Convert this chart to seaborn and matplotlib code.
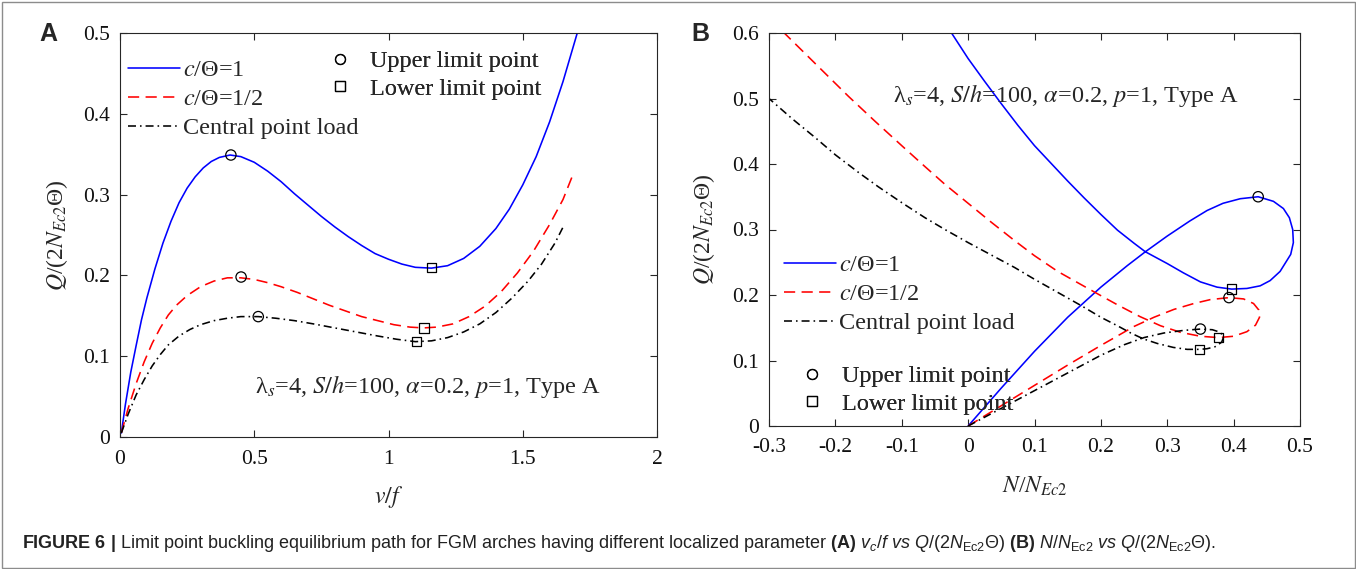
import matplotlib
matplotlib.use("Agg")
import matplotlib.pyplot as plt
import seaborn as sns
import pandas as pd
from matplotlib.lines import Line2D
from matplotlib.patches import Rectangle

# ---------------- data ----------------
# Panel A : v/f  vs  Q/(2 N_Ec2 Theta)
A_v_blue = [0.005, 0.02, 0.04, 0.06, 0.08, 0.10, 0.13, 0.16, 0.19, 0.22, 0.25, 0.28, 0.31, 0.34,
            0.37, 0.41, 0.45, 0.50, 0.55, 0.60, 0.65, 0.70, 0.75, 0.80, 0.85, 0.90, 0.95, 1.00,
            1.05, 1.10, 1.16, 1.22, 1.28, 1.34, 1.40, 1.45, 1.50, 1.55, 1.60, 1.65, 1.703]
A_q_blue = [0.005, 0.040, 0.080, 0.113, 0.145, 0.172, 0.208, 0.240, 0.267, 0.290, 0.308, 0.322,
            0.333, 0.341, 0.346, 0.349, 0.347, 0.340, 0.329, 0.316, 0.301, 0.287, 0.273, 0.260,
            0.248, 0.237, 0.227, 0.220, 0.214, 0.210, 0.209, 0.212, 0.221, 0.236, 0.258, 0.282,
            0.312, 0.347, 0.390, 0.440, 0.500]
A_v_red = [0.005, 0.03, 0.06, 0.09, 0.12, 0.15, 0.18, 0.21, 0.25, 0.30, 0.35, 0.40, 0.45, 0.50,
           0.55, 0.60, 0.66, 0.72, 0.78, 0.84, 0.90, 0.96, 1.02, 1.08, 1.13, 1.18, 1.24, 1.30,
           1.36, 1.42, 1.48, 1.54, 1.60, 1.65, 1.686]
A_q_red = [0.005, 0.035, 0.066, 0.093, 0.116, 0.135, 0.151, 0.163, 0.175, 0.186, 0.193, 0.197,
           0.197, 0.195, 0.191, 0.186, 0.179, 0.171, 0.163, 0.156, 0.149, 0.144, 0.139, 0.136,
           0.135, 0.136, 0.140, 0.149, 0.162, 0.180, 0.203, 0.230, 0.263, 0.294, 0.324]
A_v_black = [0.005, 0.03, 0.06, 0.09, 0.12, 0.15, 0.18, 0.22, 0.26, 0.30, 0.35, 0.40, 0.45, 0.515,
             0.58, 0.65, 0.72, 0.80, 0.88, 0.96, 1.03, 1.10, 1.16, 1.22, 1.28, 1.34, 1.40, 1.46,
             1.52, 1.57, 1.62, 1.655]
A_q_black = [0.005, 0.028, 0.052, 0.071, 0.088, 0.102, 0.114, 0.125, 0.133, 0.139, 0.144, 0.147,
             0.149, 0.149, 0.147, 0.144, 0.140, 0.135, 0.130, 0.125, 0.121, 0.118, 0.119, 0.123,
             0.130, 0.140, 0.154, 0.172, 0.193, 0.214, 0.240, 0.263]
A_up_v = [0.413, 0.451, 0.515]
A_up_q = [0.349, 0.198, 0.149]
A_lo_v = [1.161, 1.132, 1.105]
A_lo_q = [0.210, 0.135, 0.118]

# Panel B : N/N_Ec2  vs  Q/(2 N_Ec2 Theta)  (traced along the equilibrium path)
B_n_blue = [0.000, 0.050, 0.100, 0.150, 0.200, 0.240, 0.267, 0.300, 0.334, 0.360, 0.384, 0.410,
            0.437, 0.460, 0.475, 0.484, 0.489, 0.490, 0.486, 0.470, 0.455, 0.440, 0.420, 0.397,
            0.375, 0.350, 0.324, 0.300, 0.267, 0.250, 0.225, 0.200, 0.175, 0.150, 0.125, 0.100,
            0.075, 0.050, 0.025, 0.000, -0.025]
B_q_blue = [0.000, 0.058, 0.114, 0.166, 0.212, 0.245, 0.266, 0.290, 0.313, 0.329, 0.340, 0.347,
            0.350, 0.343, 0.332, 0.318, 0.300, 0.280, 0.262, 0.236, 0.222, 0.214, 0.210, 0.209,
            0.212, 0.220, 0.234, 0.248, 0.266, 0.279, 0.299, 0.323, 0.348, 0.374, 0.401, 0.428,
            0.459, 0.492, 0.526, 0.561, 0.600]
B_n_red = [0.000, 0.050, 0.100, 0.150, 0.200, 0.250, 0.280, 0.310, 0.340, 0.365, 0.393, 0.415,
           0.430, 0.438, 0.439, 0.433, 0.420, 0.400, 0.377, 0.350, 0.320, 0.290, 0.259, 0.225,
           0.200, 0.170, 0.135, 0.100, 0.070, 0.035, 0.000, -0.035, -0.065, -0.100, -0.140,
           -0.180, -0.220, -0.250, -0.277]
B_q_red = [0.000, 0.031, 0.062, 0.093, 0.123, 0.152, 0.166, 0.178, 0.187, 0.193, 0.196, 0.194,
           0.187, 0.177, 0.166, 0.154, 0.144, 0.137, 0.135, 0.137, 0.143, 0.153, 0.167, 0.185,
           0.199, 0.216, 0.236, 0.260, 0.283, 0.311, 0.340, 0.369, 0.396, 0.428, 0.465, 0.503,
           0.543, 0.573, 0.600]
B_n_black = [0.000, 0.050, 0.100, 0.150, 0.200, 0.235, 0.265, 0.295, 0.325, 0.350, 0.368, 0.380,
             0.385, 0.382, 0.372, 0.360, 0.349, 0.330, 0.309, 0.285, 0.264, 0.245, 0.225, 0.200,
             0.170, 0.135, 0.100, 0.070, 0.035, 0.000, -0.035, -0.065, -0.100, -0.135, -0.165,
             -0.200, -0.230, -0.265, -0.300]
B_q_black = [0.000, 0.027, 0.054, 0.081, 0.108, 0.124, 0.135, 0.142, 0.146, 0.148, 0.147, 0.143,
             0.136, 0.128, 0.121, 0.118, 0.117, 0.117, 0.120, 0.126, 0.133, 0.142, 0.153, 0.166,
             0.184, 0.204, 0.224, 0.242, 0.261, 0.280, 0.300, 0.318, 0.341, 0.365, 0.387, 0.414,
             0.440, 0.469, 0.500]
B_up_n = [0.437, 0.393, 0.350]
B_up_q = [0.350, 0.196, 0.148]
B_lo_n = [0.397, 0.377, 0.349]
B_lo_q = [0.209, 0.135, 0.117]

A_xticks = [0, 0.5, 1, 1.5, 2]
A_xticklabels = ["0", "0.5", "1", "1.5", "2"]
A_yticks = [0, 0.1, 0.2, 0.3, 0.4, 0.5]
A_yticklabels = ["0", "0.1", "0.2", "0.3", "0.4", "0.5"]
B_xticks = [-0.3, -0.2, -0.1, 0, 0.1, 0.2, 0.3, 0.4, 0.5]
B_xticklabels = ["-0.3", "-0.2", "-0.1", "0", "0.1", "0.2", "0.3", "0.4", "0.5"]
B_yticks = [0, 0.1, 0.2, 0.3, 0.4, 0.5, 0.6]
B_yticklabels = ["0", "0.1", "0.2", "0.3", "0.4", "0.5", "0.6"]

series_labels = ["$c$/\u0398=1", "$c$/\u0398=1/2", "Central point load"]
marker_labels = ["Upper limit point", "Lower limit point"]
param_text = "\u03bb$_s$=4, $S/h$=100, $\\alpha$=0.2, $p$=1, Type A"

# ---------------- style ----------------
sns.set_theme(style="ticks")
plt.rcParams.update({
    "font.family": ["Liberation Serif", "DejaVu Serif"],
    "mathtext.fontset": "custom",
    "mathtext.rm": "Liberation Sans",
    "mathtext.it": "Liberation Sans:italic",
    "mathtext.bf": "Liberation Sans:bold",
    "axes.unicode_minus": False,
    "xtick.direction": "in",
    "ytick.direction": "in",
})

BLUE, RED, BLACK = "#0000FF", "#FF0000", "#000000"
LS_SOLID, LS_DASH, LS_DDOT = "-", (0, (7, 4)), (0, (5, 2.5, 1, 2.5))
LW = 1.15
AXC = "#262626"

W, H = 1356, 569
fig = plt.figure(figsize=(W / 100, H / 100), dpi=100)


def px_axes(l, r, t, b):
    return fig.add_axes([l / W, 1 - b / H, (r - l) / W, (b - t) / H])


axA = px_axes(120, 657, 33, 437)
axB = px_axes(769, 1300, 33, 426)


def draw_curves(ax, xs, qs):
    for x, q, c, ls in zip(xs, qs, [BLUE, RED, BLACK], [LS_SOLID, LS_DASH, LS_DDOT]):
        df = pd.DataFrame({"x": x, "q": q})
        sns.lineplot(data=df, x="x", y="q", sort=False, estimator=None, ax=ax,
                     color=c, linewidth=LW, linestyle=ls)
        ln = ax.lines[-1]
        ln.set_linestyle(ls)
        ln.set_solid_joinstyle("round")
        ln.set_dash_joinstyle("round")


def draw_points(ax, ux, uq, lx, lq):
    sns.scatterplot(x=ux, y=uq, ax=ax, marker="o", s=55, facecolors="none",
                    edgecolors="black", linewidths=0.9, zorder=5)
    ax.collections[-1].set_facecolor("none")
    sns.scatterplot(x=lx, y=lq, ax=ax, marker="s", s=45, facecolors="none",
                    edgecolors="black", linewidths=0.9, zorder=5)
    ax.collections[-1].set_facecolor("none")


draw_curves(axA, [A_v_blue, A_v_red, A_v_black], [A_q_blue, A_q_red, A_q_black])
draw_points(axA, A_up_v, A_up_q, A_lo_v, A_lo_q)
draw_curves(axB, [B_n_blue, B_n_red, B_n_black], [B_q_blue, B_q_red, B_q_black])
draw_points(axB, B_up_n, B_up_q, B_lo_n, B_lo_q)

TICK_FS = 15.5
LAB_FS = 17
LEG_FS = 17.5

for ax, xt, xtl, yt, ytl, xl, yl in [
    (axA, A_xticks, A_xticklabels, A_yticks, A_yticklabels, (0, 2), (0, 0.5)),
    (axB, B_xticks, B_xticklabels, B_yticks, B_yticklabels, (-0.3, 0.5), (0, 0.6)),
]:
    ax.set_xlim(*xl)
    ax.set_ylim(*yl)
    ax.set_xticks(xt)
    ax.set_xticklabels(xtl)
    ax.set_yticks(yt)
    ax.set_yticklabels(ytl)
    ax.tick_params(direction="in", top=True, right=True, length=5, width=0.8,
                   colors=AXC, labelcolor="#111111", labelsize=TICK_FS)
    ax.tick_params(axis="x", pad=9)
    ax.tick_params(axis="y", pad=7)
    for sp in ax.spines.values():
        sp.set_visible(True)
        sp.set_color(AXC)
        sp.set_linewidth(0.8)
    ax.set_facecolor("white")

ylab = "$Q$/(2$N_{Ec2}$\u0398)"
axA.set_xlabel("$v/f$", fontsize=LAB_FS, math_fontfamily="stix")
axA.set_ylabel(ylab, fontsize=LAB_FS, math_fontfamily="stix")
axB.set_xlabel("$N$/$N_{Ec2}$", fontsize=LAB_FS, math_fontfamily="stix")
axB.set_ylabel(ylab, fontsize=LAB_FS, math_fontfamily="stix")
axA.xaxis.set_label_coords(0.5, -0.117)
axA.yaxis.set_label_coords(-0.093, 0.5)
axB.xaxis.set_label_coords(0.5, -0.123)
axB.yaxis.set_label_coords(-0.098, 0.5)

# parameter annotation
axA.text(0.251, 0.109, param_text, transform=axA.transAxes, fontsize=17.5,
         ha="left", va="baseline", math_fontfamily="stix")
axB.text(0.2335, 0.824, param_text, transform=axB.transAxes, fontsize=17.5,
         ha="left", va="baseline", math_fontfamily="stix")

# legends
line_handles = [Line2D([], [], color=c, lw=LW, ls=ls)
                for c, ls in zip([BLUE, RED, BLACK], [LS_SOLID, LS_DASH, LS_DDOT])]
mark_handles = [Line2D([], [], ls="none", marker=m, ms=ms, mfc="none", mec="black", mew=0.9)
                for m, ms in [("o", 7.2), ("s", 6.5)]]


def add_legends(ax, pos_lines, pos_marks):
    l1 = ax.legend(line_handles, series_labels, loc="upper left", bbox_to_anchor=pos_lines,
                   frameon=False, fontsize=LEG_FS, handlelength=2.14, handletextpad=0.12,
                   labelspacing=0.29, borderpad=0, borderaxespad=0)
    for t in l1.get_texts():
        t.set_math_fontfamily("stix")
    ax.add_artist(l1)
    l2 = ax.legend(mark_handles, marker_labels, loc="upper left", bbox_to_anchor=pos_marks,
                   frameon=False, fontsize=LEG_FS, handlelength=0.9, handletextpad=0.78,
                   labelspacing=0.23, borderpad=0, borderaxespad=0)
    ax.add_artist(l2)


add_legends(axA, (0.015, 0.935), (0.389, 0.957))
add_legends(axB, (0.028, 0.437), (0.060, 0.155))

# panel letters
fig.text(48 / W, 1 - 34 / H, "A", fontsize=18, fontweight="bold", family="Liberation Sans",
         ha="center", va="center")
fig.text(700 / W, 1 - 34 / H, "B", fontsize=18, fontweight="bold", family="Liberation Sans",
         ha="center", va="center")

# caption
caption = (r"$\mathbf{FIGURE\ 6\ |}$ Limit point buckling equilibrium path for FGM arches having "
           r"different localized parameter $\mathbf{(A)}$ $v_c/f\ vs\ Q/(2N_{\mathrm{Ec2}}\Theta)$ "
           r"$\mathbf{(B)}$ $N/N_{\mathrm{Ec2}}\ vs\ Q/(2N_{\mathrm{Ec2}}\Theta)$.")
fig.text(22 / W, 1 - 543 / H, caption, fontsize=13, family="Liberation Sans",
         ha="left", va="center", color="#222222")

# frame around the figure
fig.patches.append(Rectangle((1.5 / W, 1.5 / H), 1 - 3 / W, 1 - 3 / H, transform=fig.transFigure,
                             fill=False, edgecolor="#8c8c8c", linewidth=1.0))

fig.savefig("out.png", dpi=100, facecolor="white")
